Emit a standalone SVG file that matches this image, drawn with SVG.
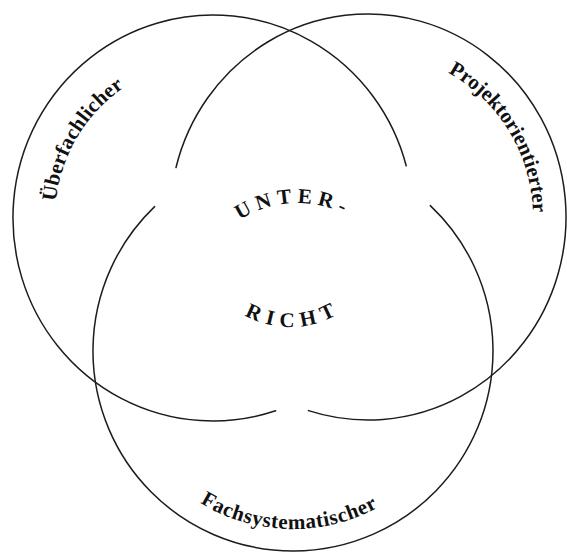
<svg xmlns="http://www.w3.org/2000/svg" xmlns:xlink="http://www.w3.org/1999/xlink" width="567" height="553" viewBox="0 0 567 553">
<style>
.ring{fill:none;stroke:#1c1c1c;stroke-width:1.5;stroke-linecap:round}
.lbl{font-family:"Liberation Serif","Times New Roman",serif;font-weight:bold;font-size:21px;fill:#111}
.mid{font-family:"Liberation Serif","Times New Roman",serif;font-weight:bold;font-size:21px;fill:#111}
</style>
<defs>
<path id="pA" d="M 55.9 201.5 A 158 158 0 0 1 124.7 87.0"/>
<path id="pB" d="M 448 72.7 A 165 165 0 0 1 532.9 212.7"/>
<path id="pC" d="M 200 502.8 A 178 178 0 0 0 381.2 505.6"/>
<path id="pU" d="M 239.8 219.9 A 105 105 0 0 1 346.3 215.3"/>
<path id="pR" d="M 244.4 315.2 A 94 94 0 0 0 338.4 313.6"/>
</defs>
<rect width="567" height="553" fill="#fff"/>
<g id="circle-ueberfachlich">
<path class="ring" d="M 406.2 165.7 A 200 203 0 1 0 275.6 410.8"/>
<text class="lbl"><textPath xlink:href="#pA" href="#pA" textLength="137" lengthAdjust="spacing">Überfachlicher</textPath></text>
</g>
<g id="circle-projektorientiert">
<path class="ring" d="M 176 167.5 A 198 203 0 1 1 308.5 410.6"/>
<text class="lbl"><textPath xlink:href="#pB" href="#pB" textLength="171" lengthAdjust="spacing">Projektorientierter</textPath></text>
</g>
<g id="circle-fachsystematisch">
<path class="ring" d="M 430.3 205.6 A 200 200 0 1 1 154.6 206.6"/>
<text class="lbl"><textPath xlink:href="#pC" href="#pC" textLength="186" lengthAdjust="spacing">Fachsystematischer</textPath></text>
</g>
<g id="center-unterricht">
<text class="mid"><textPath xlink:href="#pU" href="#pU" textLength="108" lengthAdjust="spacing">UNTER-</textPath></text>
<text class="mid"><textPath xlink:href="#pR" href="#pR" textLength="96" lengthAdjust="spacing">RICHT</textPath></text>
</g>
<g id="connectors"/>
</svg>
